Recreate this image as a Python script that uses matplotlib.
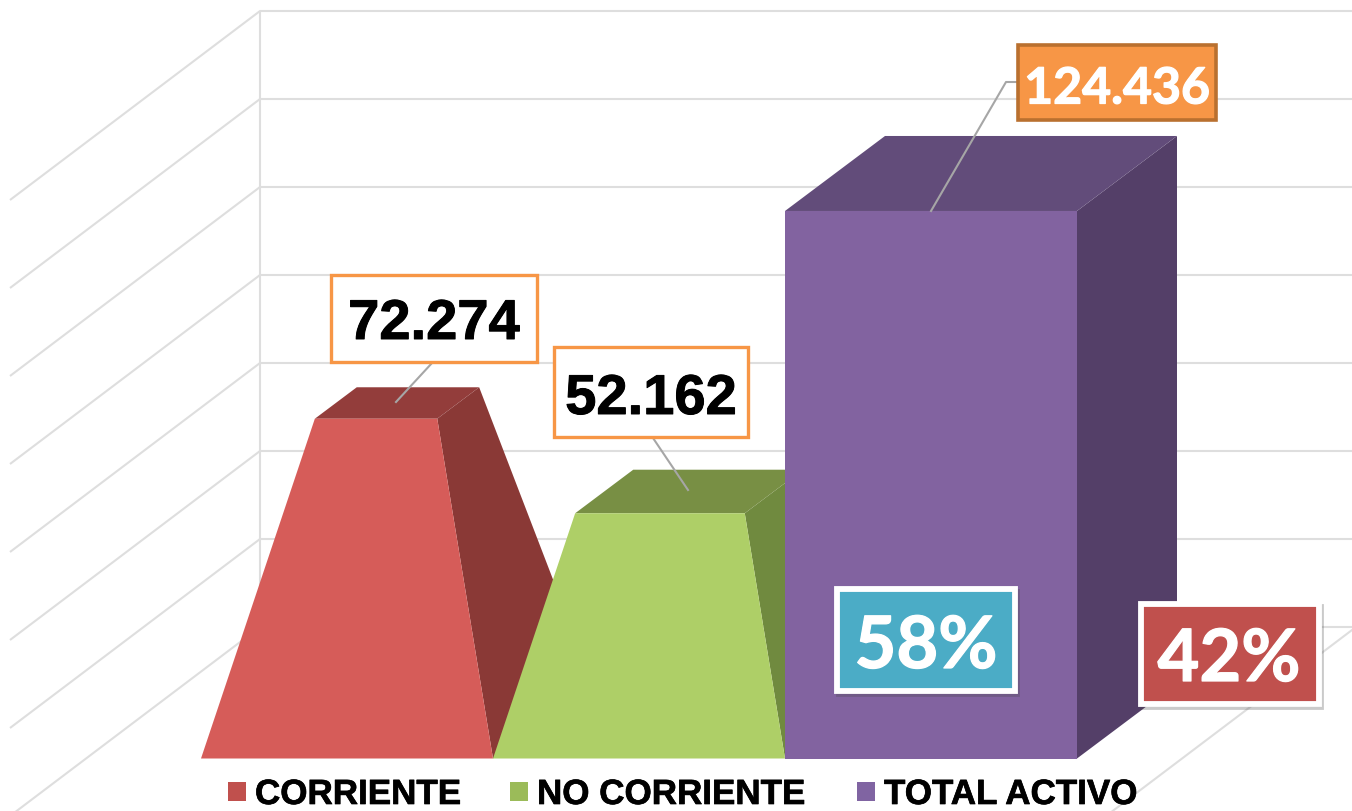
import matplotlib
matplotlib.use('Agg')
import matplotlib.pyplot as plt
import matplotlib.patheffects as pe
from matplotlib.patches import Rectangle

categories = ['CORRIENTE', 'NO CORRIENTE', 'TOTAL ACTIVO']
values = [72274, 52162, 124436]
value_labels = ['72.274', '52.162', '124.436']
shapes = ['pyramid', 'pyramid', 'box']
grid_values = [0, 20000, 40000, 60000, 80000, 100000, 120000, 140000]
percent_labels = ['58%', '42%']

front_colors = ['#D65C59', '#AECF67', '#8263A0']
side_colors = ['#8A3936', '#708A3F', '#543F68']
top_colors = ['#933D3B', '#788F44', '#624C7A']
legend_colors = ['#C0504D', '#9BBB59', '#8064A2']
orange, orange_dark, grid_col, leader_col = '#F79646', '#B9702F', '#DEDEDE', '#A6A6A6'

W, H = 1352, 812
BAR_PX = 292        # one category
UNIT_PX = 0.0044    # pixels per value unit
BASE_X, BASE_Y = 347, 759.5
DEPTH_X, DEPTH_Y = 100 / BAR_PX, 75 / UNIT_PX
WALL_LIFT = (BASE_Y - 628) / UNIT_PX
WALL_X = (260 - BASE_X) / BAR_PX
WALL_RIGHT = (1356 - BASE_X) / BAR_PX
SIDE_X, SIDE_Y = 250 / BAR_PX, 189 / UNIT_PX

fig = plt.figure(figsize=(W / 100, H / 100), dpi=100)
ax = fig.add_axes([0, 0, 1, 1])
ax.set_xlim(-BASE_X / BAR_PX, (W - BASE_X) / BAR_PX)
ax.set_ylim((BASE_Y - H) / UNIT_PX, BASE_Y / UNIT_PX)
ax.axis('off')

# walls and floor
line_kw = dict(color=grid_col, lw=1.5, solid_capstyle='butt', zorder=1)
for v in grid_values:
    y = v + WALL_LIFT
    ax.plot([WALL_X - SIDE_X, WALL_X, WALL_RIGHT], [y - SIDE_Y, y, y], **line_kw)
ax.plot([WALL_X, WALL_X], [WALL_LIFT, grid_values[-1] + WALL_LIFT], **line_kw)
ax.plot([WALL_RIGHT, WALL_RIGHT - SIDE_X], [WALL_LIFT, WALL_LIFT - SIDE_Y], **line_kw)


def corner(i, u, w, height, s):
    cx, cy = i + DEPTH_X / 2, DEPTH_Y / 2
    return cx + s * (u + w * DEPTH_X), height + cy + s * w * DEPTH_Y


for i, v in enumerate(values):
    # a cut pyramid narrows towards the tallest value
    s = 1 - v / max(values) if shapes[i] == 'pyramid' else 1
    z = 2 + i
    if shapes[i] == 'box':
        base_fl, base_fr, base_br = (i - .5, 0), (i + .5, 0), (i + .5 + DEPTH_X, DEPTH_Y)
        top_fl, top_fr = (i - .5, v), (i + .5, v)
        top_br, top_bl = (i + .5 + DEPTH_X, v + DEPTH_Y), (i - .5 + DEPTH_X, v + DEPTH_Y)
    else:
        base_fl = corner(i, -.5, -.5, 0, 1)
        base_fr = corner(i, .5, -.5, 0, 1)
        base_br = corner(i, .5, .5, 0, 1)
        top_fl = corner(i, -.5, -.5, v, s)
        top_fr = corner(i, .5, -.5, v, s)
        top_br = corner(i, .5, .5, v, s)
        top_bl = corner(i, -.5, .5, v, s)
    for pts, col in [([base_fr, base_br, top_br, top_fr], side_colors[i]),
                     ([top_fl, top_fr, top_br, top_bl], top_colors[i]),
                     ([base_fl, base_fr, top_fr, top_fl], front_colors[i])]:
        ax.fill([p[0] for p in pts], [p[1] for p in pts], color=col, lw=0, zorder=z)

# labels sit on a pixel overlay
ov = fig.add_axes([0, 0, 1, 1])
ov.set_xlim(0, W)
ov.set_ylim(H, 0)
ov.axis('off')
ov.patch.set_alpha(0)

ov.plot([432, 396], [364, 403], color=leader_col, lw=1.5, zorder=3)
ov.plot([653, 688], [439, 491], color=leader_col, lw=1.5, zorder=3)
ov.plot([1017, 1006, 931], [83, 83, 212], color=leader_col, lw=1.5, zorder=3)

ov.add_patch(Rectangle((331, 276), 206, 87, fc='white', ec=orange, lw=2.4, zorder=4))
ov.add_patch(Rectangle((554, 348), 194, 90, fc='white', ec=orange, lw=2.4, zorder=4))
ov.add_patch(Rectangle((1018, 46), 198, 75, fc=orange, ec=orange_dark, lw=2.6, zorder=4))
arial = ['Liberation Sans', 'DejaVu Sans']
black_bold = [pe.withStroke(linewidth=.7, foreground='black')]
white_bold = [pe.withStroke(linewidth=.9, foreground='white')]
ov.text(434, 320, value_labels[0], family=arial, weight='bold', fontsize=40.4,
        ha='center', va='center_baseline', color='black', zorder=5, path_effects=black_bold)
ov.text(651, 395, value_labels[1], family=arial, weight='bold', fontsize=40.4,
        ha='center', va='center_baseline', color='black', zorder=5, path_effects=black_bold)
ov.text(1117, 86, value_labels[2], family=['Lato', 'DejaVu Sans'], weight='bold', fontsize=36,
        ha='center', va='center_baseline', color='white', zorder=5, path_effects=white_bold)

for x, y, w, h, col in [(837, 590, 178, 102, '#4BACC6'), (1141, 605, 178, 100, '#C0504D')]:
    ov.add_patch(Rectangle((x + 1.5, y + 2.5), w, h, fc='#444444', ec='#444444', lw=4.2,
                           alpha=.28, zorder=3.5))
    ov.add_patch(Rectangle((x, y), w, h, fc=col, ec='white', lw=4.2, zorder=4))
ov.text(926, 642, percent_labels[0], family=['Lato', 'DejaVu Sans'], weight='bold', fontsize=52,
        ha='center', va='center_baseline', color='white', zorder=5, path_effects=white_bold)
ov.text(1229, 655, percent_labels[1], family=['Lato', 'DejaVu Sans'], weight='bold', fontsize=52,
        ha='center', va='center_baseline', color='white', zorder=5, path_effects=white_bold)

# legend
legend_x = [228, 510, 857]
for x, name, col in zip(legend_x, categories, legend_colors):
    ov.add_patch(Rectangle((x, 783), 18, 19, fc=col, ec='none', zorder=4))
    ov.text(x + 27, 792, name, family=arial, weight='bold', fontsize=25.2,
            ha='left', va='center_baseline', color='black', zorder=5,
            path_effects=[pe.withStroke(linewidth=.5, foreground='black')])

fig.savefig('out.png', dpi=100, facecolor='white')
